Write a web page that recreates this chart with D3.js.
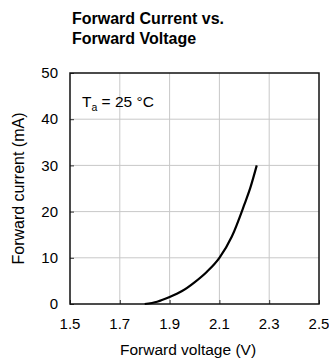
<!DOCTYPE html>
<html>
<head>
<meta charset="utf-8">
<script src="https://cdn.jsdelivr.net/npm/d3@7"></script>
<style>
  body { margin: 0; background: #fff; }
  text { font-family: "Liberation Sans", Arial, sans-serif; fill: #000; }
</style>
</head>
<body>
<div id="chart"></div>
<script>
// forward voltage (V) vs forward current (mA)
const voltage = [1.80, 1.85, 1.90, 1.95, 2.00, 2.05, 2.10, 2.15, 2.20, 2.225, 2.25];
const current = [0, 0.5, 1.5, 2.8, 4.7, 7.0, 10.0, 14.6, 21.5, 25.3, 30];
const xTicks = [1.5, 1.7, 1.9, 2.1, 2.3, 2.5];
const yTicks = [0, 10, 20, 30, 40, 50];
const titleLines = ["Forward Current vs.", "Forward Voltage"];

const W = 329, H = 359;
const margin = {top: 73, right: 10, bottom: 55, left: 70};
const width = W - margin.left - margin.right;
const height = H - margin.top - margin.bottom;

const svg = d3.select("#chart").append("svg")
    .attr("width", W)
    .attr("height", H);

// 標題
svg.append("text")
    .attr("x", 72)
    .attr("y", 24)
    .style("font-size", "16px")
    .style("font-weight", "bold")
    .selectAll("tspan")
    .data(titleLines)
    .enter()
    .append("tspan")
    .attr("x", 72)
    .attr("dy", (d, i) => i === 0 ? 0 : 20)
    .text(d => d);

const g = svg.append("g")
    .attr("transform", `translate(${margin.left},${margin.top})`);

const x = d3.scaleLinear().domain([1.5, 2.5]).range([0, width]);
const y = d3.scaleLinear().domain([0, 50]).range([height, 0]);

// grid
g.selectAll(".vgrid")
    .data(xTicks.slice(1, -1))
    .enter().append("line")
    .attr("x1", d => x(d)).attr("x2", d => x(d))
    .attr("y1", 0).attr("y2", height)
    .attr("stroke", "#c8c8c8").attr("stroke-width", 1);

g.selectAll(".hgrid")
    .data(yTicks.slice(1, -1))
    .enter().append("line")
    .attr("x1", 0).attr("x2", width)
    .attr("y1", d => y(d)).attr("y2", d => y(d))
    .attr("stroke", "#c8c8c8").attr("stroke-width", 1);

// small ticks on axes
g.append("g")
    .attr("transform", `translate(0,${height})`)
    .call(d3.axisBottom(x).tickValues(xTicks).tickSize(-4).tickFormat(""))
    .call(a => a.select(".domain").remove())
    .selectAll("line").attr("stroke", "#333");

g.append("g")
    .call(d3.axisLeft(y).tickValues(yTicks).tickSize(-4).tickFormat(""))
    .call(a => a.select(".domain").remove())
    .selectAll("line").attr("stroke", "#333");

// frame
g.append("rect")
    .attr("width", width).attr("height", height)
    .attr("fill", "none")
    .attr("stroke", "#111")
    .attr("stroke-width", 1.5);

// tick labels
g.selectAll(".xlab")
    .data(xTicks)
    .enter().append("text")
    .attr("x", d => x(d))
    .attr("y", height + 20)
    .attr("dy", "0.35em")
    .attr("text-anchor", "middle")
    .style("font-size", "15px")
    .text(d => d.toFixed(1));

g.selectAll(".ylab")
    .data(yTicks)
    .enter().append("text")
    .attr("x", -12)
    .attr("y", d => y(d))
    .attr("dy", "0.35em")
    .attr("text-anchor", "end")
    .style("font-size", "15px")
    .text(d => d);

// axis titles
svg.append("text")
    .attr("x", 188)
    .attr("y", 355)
    .attr("text-anchor", "middle")
    .style("font-size", "15.5px")
    .text("Forward voltage (V)");

svg.append("text")
    .attr("transform", `translate(24,${margin.top + height / 2}) rotate(-90)`)
    .attr("text-anchor", "middle")
    .style("font-size", "16px")
    .text("Forward current (mA)");

// Ta label
const ta = g.append("text")
    .attr("x", 12)
    .attr("y", 34)
    .style("font-size", "15.5px");
ta.append("tspan").text("T");
ta.append("tspan").attr("dy", 4).style("font-size", "10.5px").text("a");
ta.append("tspan").attr("dy", -4).text(" = 25 °C");

// curve
const line = d3.line()
    .x((d, i) => x(voltage[i]))
    .y(d => y(d))
    .curve(d3.curveMonotoneX);

g.append("path")
    .datum(current)
    .attr("d", line)
    .attr("fill", "none")
    .attr("stroke", "#000")
    .attr("stroke-width", 2.2);
</script>
</body>
</html>
